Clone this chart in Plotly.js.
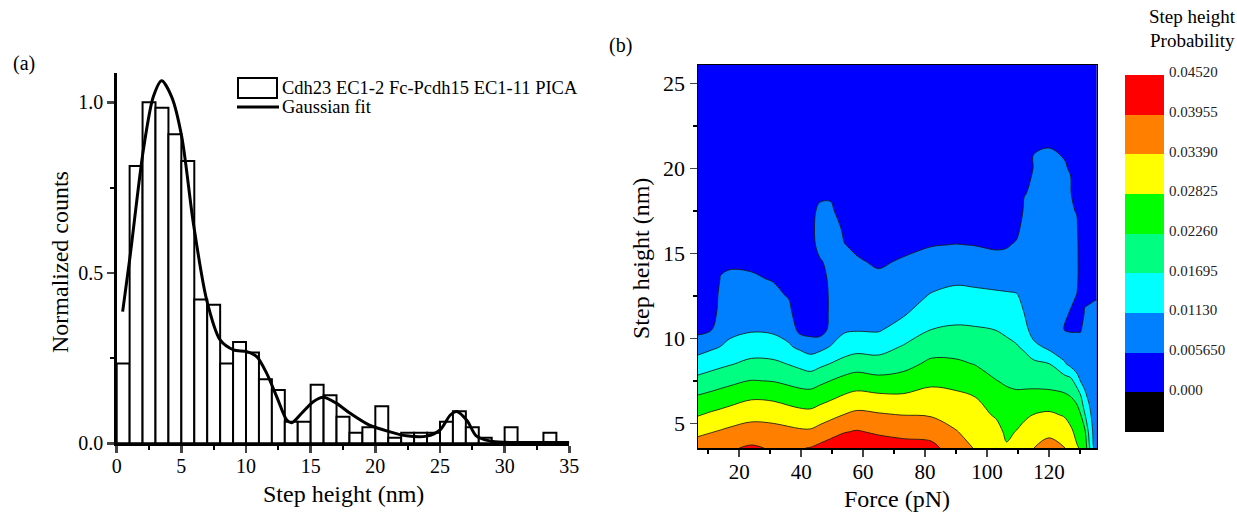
<!DOCTYPE html>
<html><head><meta charset="utf-8">
<script src="https://cdn.plot.ly/plotly-3.0.1.min.js"></script>
<style>html,body{margin:0;padding:0;background:#fff}</style>
</head><body><div id="chart" style="width:1237px;height:520px"></div>
<script>
// ---------- (a) step-height histogram ----------
const binCenters = [0.5,1.5,2.5,3.5,4.5,5.5,6.5,7.5,8.5,9.5,10.5,11.5,12.5,13.5,14.5,15.5,16.5,17.5,18.5,19.5,20.5,21.5,22.5,23.5,24.5,25.5,26.5,27.5,28.5,29.5,30.5,31.5,32.5,33.5,34.5];
const normCounts = [0.234,0.813,1.000,0.984,0.906,0.828,0.422,0.406,0.234,0.297,0.266,0.188,0.156,0.063,0.063,0.172,0.141,0.078,0.031,0.047,0.109,0.016,0.031,0.031,0.031,0.063,0.094,0.047,0.016,0,0.047,0,0,0.031,0];
const fitX = [0.46,1.03,2.06,2.83,3.48,4.25,5.03,5.93,6.96,8.0,9.03,10.06,10.83,11.6,12.37,13.15,13.53,14.3,15.2,15.97,17.0,18.05,19.5,21.1,22.4,23.97,25.0,25.8,26.3,27.1,27.8,28.85,30,32,35];
const fitY = [0.386,0.547,0.86,1.016,1.063,1.016,0.899,0.645,0.42,0.303,0.274,0.269,0.254,0.205,0.137,0.068,0.06,0.088,0.122,0.135,0.117,0.088,0.054,0.034,0.022,0.021,0.039,0.083,0.093,0.066,0.022,0.007,0.003,0.002,0.002];
const histTickVals = [0,0.5,1.0];
const histTickText = ['0.0','0.5','1.0'];
const seriesNames = ['Cdh23 EC1-2 Fc-Pcdh15 EC1-11 PICA','Gaussian fit'];

// ---------- (b) force vs step height probability map ----------
const forcePN = [6.7,11,14,17,24,31,36,39.5,43,46,49.5,54,58,65,73,82,90,96,103,106.3,109.5,112,115,120,125,127,129,130.2,131.5,133,134.3,135.4];
const stepNm = [3.55,4.5,5.5,6.5,7.5,8.5,9.5,10.5,11.5,12.5,13.5,14.5,15.5,16.5,17.5,18.5,20,21.5,23,26.1];
// probability in units of the contour step (0.00565), one array per force column, bottom to top
const STEP = 0.00565;
const probSteps = [
 [6.55,5.77,4.94,4.14,3.29,2.44,1.59,0.75,0.3,0.3,0.3,0.3,0.3,0.3,0.3,0.3,0.3,0.3,0.3,0.3],
 [6.73,5.96,5.16,4.32,3.48,2.66,1.84,0.97,0.3,0.3,0.3,0.3,0.3,0.3,0.3,0.3,0.3,0.3,0.3,0.3],
 [6.85,6.09,5.29,4.46,3.62,2.80,2.01,1.76,1.53,1.29,1.05,0.80,0.3,0.3,0.3,0.3,0.3,0.3,0.3,0.3],
 [6.9,6.22,5.43,4.60,3.75,2.93,2.17,1.82,1.59,1.36,1.13,0.89,0.3,0.3,0.3,0.3,0.3,0.3,0.3,0.3],
 [7.13,6.44,5.69,4.91,4.04,3.24,2.5,1.92,1.65,1.38,1.11,0.84,0.3,0.3,0.3,0.3,0.3,0.3,0.3,0.3],
 [6.9,6.38,5.62,4.85,3.96,3.20,2.42,1.86,1.55,1.25,0.94,0.3,0.3,0.3,0.3,0.3,0.3,0.3,0.3,0.3],
 [6.9,6.25,5.46,4.63,3.77,2.96,2.11,1.67,1.30,0.93,0.3,0.3,0.3,0.3,0.3,0.3,0.3,0.3,0.3,0.3],
 [6.95,6.16,5.34,4.49,3.63,2.76,1.82,0.73,0.3,0.3,0.3,0.3,0.3,0.3,0.3,0.3,0.3,0.3,0.3,0.3],
 [7.04,6.15,5.29,4.46,3.56,2.55,1.57,0.62,0.3,0.3,0.3,0.3,0.3,0.3,0.3,0.3,0.3,0.3,0.3,0.3],
 [7.25,6.37,5.49,4.65,3.77,2.78,1.71,0.53,0.3,0.3,0.4,0.8,1.6,1.9,1.5,0.5,0.3,0.3,0.3,0.3],
 [7.51,6.63,5.73,4.87,4.01,3.03,2.05,1.25,1.2,1.2,1.3,1.5,1.6,1.5,1.25,0.8,0.3,0.3,0.3,0.3],
 [7.83,6.95,6.03,5.18,4.30,3.39,2.43,1.90,1.72,1.55,1.37,1.19,1.02,0.82,0.3,0.3,0.3,0.3,0.3,0.3],
 [7.89,7.08,6.22,5.37,4.47,3.55,2.64,1.94,1.72,1.51,1.29,1.08,0.86,0.3,0.3,0.3,0.3,0.3,0.3,0.3],
 [7.58,6.86,6.10,5.26,4.29,3.43,2.60,1.92,1.67,1.41,1.15,0.90,0.3,0.3,0.3,0.3,0.3,0.3,0.3,0.3],
 [7.40,6.71,5.98,5.20,4.39,3.68,3.08,2.39,1.88,1.61,1.35,1.08,0.81,0.3,0.3,0.3,0.3,0.3,0.3,0.3],
 [7.29,6.61,5.92,5.36,4.80,4.20,3.60,3.01,2.54,2.07,1.69,1.33,0.96,0.3,0.3,0.3,0.3,0.3,0.3,0.3],
 [6.46,6.05,5.63,5.21,4.72,4.15,3.63,3.13,2.68,2.26,1.84,1.43,1.02,0.62,0.3,0.3,0.3,0.3,0.3,0.3],
 [5.95,5.66,5.35,5.04,4.52,3.97,3.53,3.09,2.65,2.21,1.79,1.38,0.98,0.3,0.3,0.3,0.3,0.3,0.3,0.3],
 [5.73,5.32,4.89,4.45,4.02,3.68,3.34,2.99,2.57,2.14,1.72,1.30,0.87,0.3,0.3,0.3,0.3,0.3,0.3,0.3],
 [5.11,4.82,4.52,4.21,3.90,3.55,3.21,2.85,2.47,2.10,1.71,1.31,0.92,0.3,0.3,0.3,0.3,0.3,0.3,0.3],
 [5.44,5.04,4.62,4.19,3.80,3.43,3.06,2.72,2.38,2.05,1.73,1.41,1.10,0.77,0.3,0.3,0.3,0.3,0.3,0.3],
 [5.85,5.34,4.79,4.25,3.76,3.33,2.88,2.42,1.99,1.85,1.71,1.56,1.42,1.28,1.14,0.97,0.3,0.3,0.3,0.3],
 [5.99,5.52,5.02,4.32,3.72,3.21,2.33,1.5,1.45,1.40,1.36,1.31,1.26,1.21,1.16,1.11,1.04,0.965,0.3,0.3],
 [6.37,5.78,5.16,4.35,3.63,3.02,1.75,1.69,1.62,1.56,1.50,1.43,1.37,1.30,1.24,1.17,1.08,0.98,0.3,0.3],
 [6.03,5.50,4.92,4.22,3.47,2.11,1.4,0.98,1.25,1.45,1.45,1.4,1.33,1.27,1.2,1.13,1.03,0.94,0.3,0.3],
 [5.75,5.20,4.62,4.05,3.31,1.71,1.3,0.95,0.9,1.3,1.35,1.3,1.25,1.2,1.13,1.07,0.97,0.3,0.3,0.3],
 [5.10,4.72,4.32,3.80,2.5,1.4,1.3,0.95,0.6,0.95,1.3,1.35,1.3,1.15,0.94,0.3,0.3,0.3,0.3,0.3],
 [4.9,4.5,4.04,3.21,1.96,1.64,1.32,0.95,0.5,0.3,0.3,0.3,0.3,0.3,0.3,0.3,0.3,0.3,0.3,0.3],
 [4.7,4.25,3.11,2.16,1.84,1.64,1.45,1.25,1.06,0.86,0.3,0.3,0.3,0.3,0.3,0.3,0.3,0.3,0.3,0.3],
 [3.13,2.66,2.17,1.89,1.73,1.57,1.41,1.24,1.08,0.92,0.3,0.3,0.3,0.3,0.3,0.3,0.3,0.3,0.3,0.3],
 [2.02,1.89,1.78,1.66,1.54,1.43,1.31,1.19,1.08,0.96,0.3,0.3,0.3,0.3,0.3,0.3,0.3,0.3,0.3,0.3],
 [1.9,1.8,1.7,1.6,1.5,1.4,1.3,1.2,1.1,0.97,0.3,0.3,0.3,0.3,0.3,0.3,0.3,0.3,0.3,0.3]
];
const levelLabels = ['0.000','0.005650','0.01130','0.01695','0.02260','0.02825','0.03390','0.03955','0.04520'];
const levelColors = ['#000000','#0000ff','#0080ff','#00ffff','#00ff80','#00ff00','#ffff00','#ff8000','#ff0000'];

// ---------- build ----------
const W = 1237, H = 520;
const px = v => v / W, py = v => 1 - v / H;
const FONT = 'Liberation Serif, Times New Roman, serif';
const cscale = levelColors.map((c, i) => [i / (levelColors.length - 1), c]);
const zProb = probSteps.map(col => col.map(v => v * STEP));

const traces = [
  {type:'bar', x: binCenters, y: normCounts, width: 1, xaxis:'x', yaxis:'y', name: seriesNames[0],
   marker:{color:'#ffffff', line:{color:'#000000', width:2}}, hoverinfo:'x+y'},
  {type:'scatter', mode:'lines', x: fitX, y: fitY, xaxis:'x', yaxis:'y', name: seriesNames[1],
   line:{color:'#000000', width:3, shape:'spline', smoothing:0.8}},
  {type:'contour', x: forcePN, y: stepNm, z: zProb, transpose: true, xaxis:'x2', yaxis:'y2',
   autocontour:false, contours:{start:0, end:7*STEP, size:STEP, coloring:'fill', showlines:true},
   colorscale: cscale, showscale:false, line:{color:'rgba(25,25,25,0.85)', width:1, smoothing:1}},
  {type:'heatmap', x:[0], y: levelLabels.map((_, i) => i), z: levelLabels.map((_, i) => [i]),
   xaxis:'x3', yaxis:'y3', colorscale: cscale, zmin:0, zmax: levelLabels.length - 1, showscale:false, hoverinfo:'skip'}
];

const tf = (s) => ({family: FONT, size: s, color:'#000'});
const ann = (text, x, y, size, extra) => Object.assign({text, x:px(x), y:py(y), xref:'paper', yref:'paper',
  xanchor:'center', yanchor:'middle', showarrow:false, font:tf(size)}, extra || {});
const layout = {
  width: W, height: H, margin:{l:0, r:0, t:0, b:0}, paper_bgcolor:'#fff', plot_bgcolor:'#fff',
  showlegend:false, font:{family: FONT, color:'#000'},
  xaxis:{domain:[px(116.7), px(569.3)], range:[0,35], tick0:0, dtick:5, ticks:'outside', ticklen:7, tickwidth:2.5,
    showline:true, linewidth:2.5, linecolor:'#000', showgrid:false, zeroline:false, tickfont: tf(20), anchor:'y',
    ticklabelstandoff:-4,
    minor:{dtick:2.5, ticks:'outside', ticklen:4, tickwidth:2, tickcolor:'#000'}},
  yaxis:{domain:[py(443.3), py(73.3)], range:[0,1.085], tickvals: histTickVals, ticktext: histTickText, ticks:'outside',
    ticklen:7, tickwidth:2.5, showline:true, linewidth:2.5, linecolor:'#000', showgrid:false, zeroline:false,
    tickfont: tf(20), anchor:'x', minor:{dtick:0.25, tick0:0, ticks:'outside', ticklen:4, tickwidth:2, tickcolor:'#000'}},
  xaxis2:{domain:[px(698), px(1096.7)], range:[6.7,135.4], tick0:0, dtick:20, ticks:'outside', ticklen:7, tickwidth:1.5,
    showline:true, mirror:true, linewidth:1.5, linecolor:'#000', showgrid:false, zeroline:false, tickfont: tf(21), anchor:'y2',
    ticklabelstandoff:-3,
    minor:{dtick:10, ticks:'outside', ticklen:4, tickwidth:1.5, tickcolor:'#000'}},
  yaxis2:{domain:[py(448), py(65)], range:[3.55,26.08], tick0:0, dtick:5, ticks:'outside', ticklen:7, tickwidth:1.5,
    showline:true, mirror:true, linewidth:1.5, linecolor:'#000', showgrid:false, zeroline:false, tickfont: tf(22), anchor:'x2',
    minor:{dtick:2.5, ticks:'outside', ticklen:4, tickwidth:1.5, tickcolor:'#000'}},
  xaxis3:{domain:[px(1125), px(1164)], range:[-0.5,0.5], visible:false, anchor:'y3', fixedrange:true},
  yaxis3:{domain:[py(432), py(75)], range:[-0.5, levelLabels.length - 0.5], side:'right', anchor:'x3',
    tickvals: levelLabels.map((_, i) => i + 0.5), ticktext: levelLabels, ticks:'', showline:false, showgrid:false,
    zeroline:false, tickfont:{family: FONT, size:15, color:'#222'}, ticklabelshift:-3, ticklabelstandoff:4, fixedrange:true},
  shapes:[
    {type:'rect', xref:'paper', yref:'paper', x0:px(238), x1:px(277), y0:py(98), y1:py(78), line:{color:'#000', width:2}, fillcolor:'#fff'},
    {type:'line', xref:'paper', yref:'paper', x0:px(237), x1:px(279), y0:py(107), y1:py(107), line:{color:'#000', width:3}}
  ],
  annotations:[
    ann('(a)', 24, 63, 20),
    ann('(b)', 620, 45, 20),
    ann('Normalized counts', 60, 262, 24, {textangle:-90}),
    ann('Step height (nm)', 343, 494, 24),
    ann('Step height (nm)', 641, 258, 24, {textangle:-90}),
    ann('Force (pN)', 897, 499, 24),
    ann('Step height', 1192, 16, 19),
    ann('Probability', 1192, 41, 19),
    ann(seriesNames[0], 280, 88, 18.5, {xanchor:'left'}),
    ann(seriesNames[1], 280, 107, 18.5, {xanchor:'left'})
  ]
};
Plotly.newPlot('chart', traces, layout, {displayModeBar:false, staticPlot:true});
</script></body></html>
